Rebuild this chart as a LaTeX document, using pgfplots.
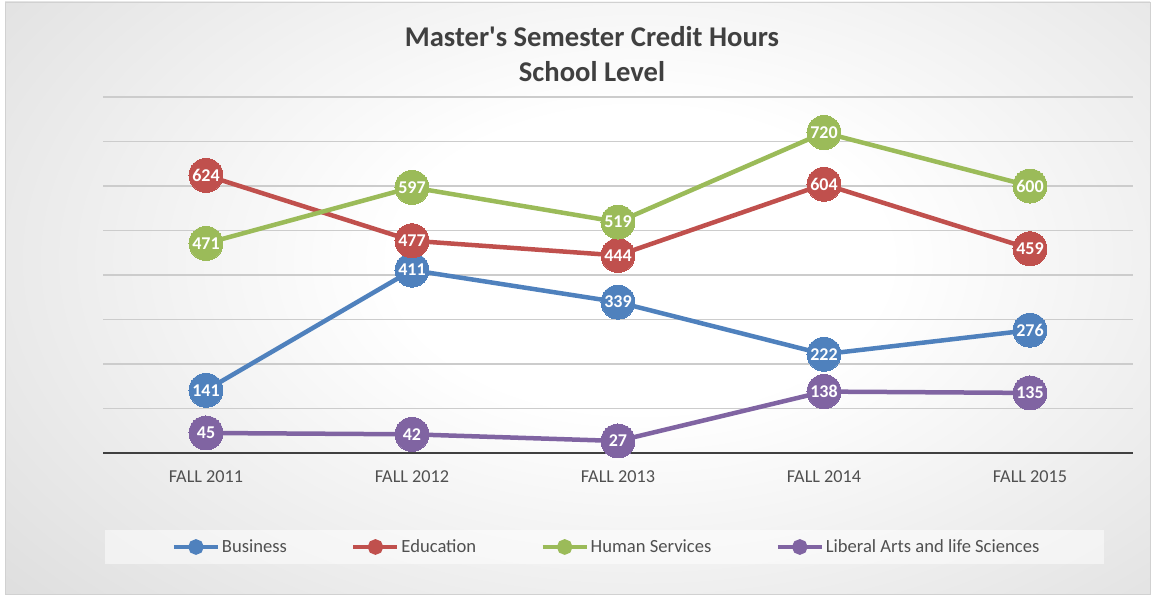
\documentclass[border=0pt]{standalone}
\usepackage{pgfplots}
\pgfplotsset{compat=1.18}
\usepackage{fontspec}
\setmainfont{Carlito}
\definecolor{cBus}{HTML}{4F81BD}
\definecolor{cEdu}{HTML}{C0504D}
\definecolor{cHum}{HTML}{9BBB59}
\definecolor{cLib}{HTML}{8064A2}
\definecolor{txt}{HTML}{505050}
\definecolor{ttl}{HTML}{404040}
\definecolor{bgg}{HTML}{C8C8C8}
\definecolor{bgg2}{HTML}{BEBEBE}
\pgfdeclareradialshading{bgshade}{\pgfpoint{0bp}{0bp}}{color(0bp)=(white); color(8.3bp)=(white); color(41.7bp)=(bgg); color(60bp)=(bgg2)}
\begin{document}
\begin{tikzpicture}[x=1pt,y=1pt]
\useasboundingbox (0,0) rectangle (1156,595);
\fill[white] (0,0) rectangle (1156,595);
\begin{scope}
\clip (5,1) rectangle (1150,593);
\shade[shading=bgshade] (-104,-121) rectangle (1384,791);
\end{scope}
\draw[color=black!18, line width=0.8pt] (5,1) rectangle (1150,593);
\fill[white, fill opacity=0.5] (105,31) rectangle (1104,65);
\node[font=\bfseries\fontsize{28.6}{35}\selectfont, text=ttl, align=center] at (592,540.5) {Master\textquotesingle s Semester Credit Hours\\School Level};
\begin{axis}[
  at={(103pt,142pt)}, anchor=south west, scale only axis,
  width=1030pt, height=356pt,
  xmin=-0.5, xmax=4.5, ymin=0, ymax=800, clip=false,
  xtick={0,1,2,3,4},
  xticklabels={FALL 2011,FALL 2012,FALL 2013,FALL 2014,FALL 2015},
  ytick={100,200,300,400,500,600,700,800}, yticklabels={},
  ymajorgrids, grid style={color=black!20, line width=1.2pt},
  separate axis lines,
  axis x line*=bottom, axis y line*=left,
  y axis line style={draw=none},
  x axis line style={draw=ttl, line width=2.5pt, -},
  major tick length=0pt, tick style={draw=none},
  xticklabel style={font=\fontsize{18.2}{18.2}\selectfont, text=txt, yshift=-14pt},
  /pgf/number format/assume math mode=true,
  nodes near coords,
  every node near coord/.append style={anchor=center, text=white, font=\bfseries\fontsize{18}{18}\selectfont},
  legend columns=4,
  legend style={at={(0.489,-0.264)}, anchor=center, draw=none, fill=none,
    font=\fontsize{18.6}{18.6}\selectfont, text=txt,
    /tikz/every even column/.append style={column sep=62.5pt}},
  legend image code/.code={\draw[#1, line width=4pt] (0pt,0pt) -- (44pt,0pt); \fill[#1] (22pt,0pt) circle (5.5pt);},
]
\addplot[cBus, line width=4.5pt, mark=*, mark size=17pt, mark options={line width=0pt}] coordinates {(0,141)(1,411)(2,339)(3,222)(4,276)};
\addlegendentry{Business}
\addplot[cEdu, line width=4.5pt, mark=*, mark size=17pt, mark options={line width=0pt}] coordinates {(0,624)(1,477)(2,444)(3,604)(4,459)};
\addlegendentry{Education}
\addplot[cHum, line width=4.5pt, mark=*, mark size=17pt, mark options={line width=0pt}] coordinates {(0,471)(1,597)(2,519)(3,720)(4,600)};
\addlegendentry{Human Services}
\addplot[cLib, line width=4.5pt, mark=*, mark size=17pt, mark options={line width=0pt}] coordinates {(0,45)(1,42)(2,27)(3,138)(4,135)};
\addlegendentry{Liberal Arts and life Sciences}
\end{axis}
\end{tikzpicture}
\end{document}
